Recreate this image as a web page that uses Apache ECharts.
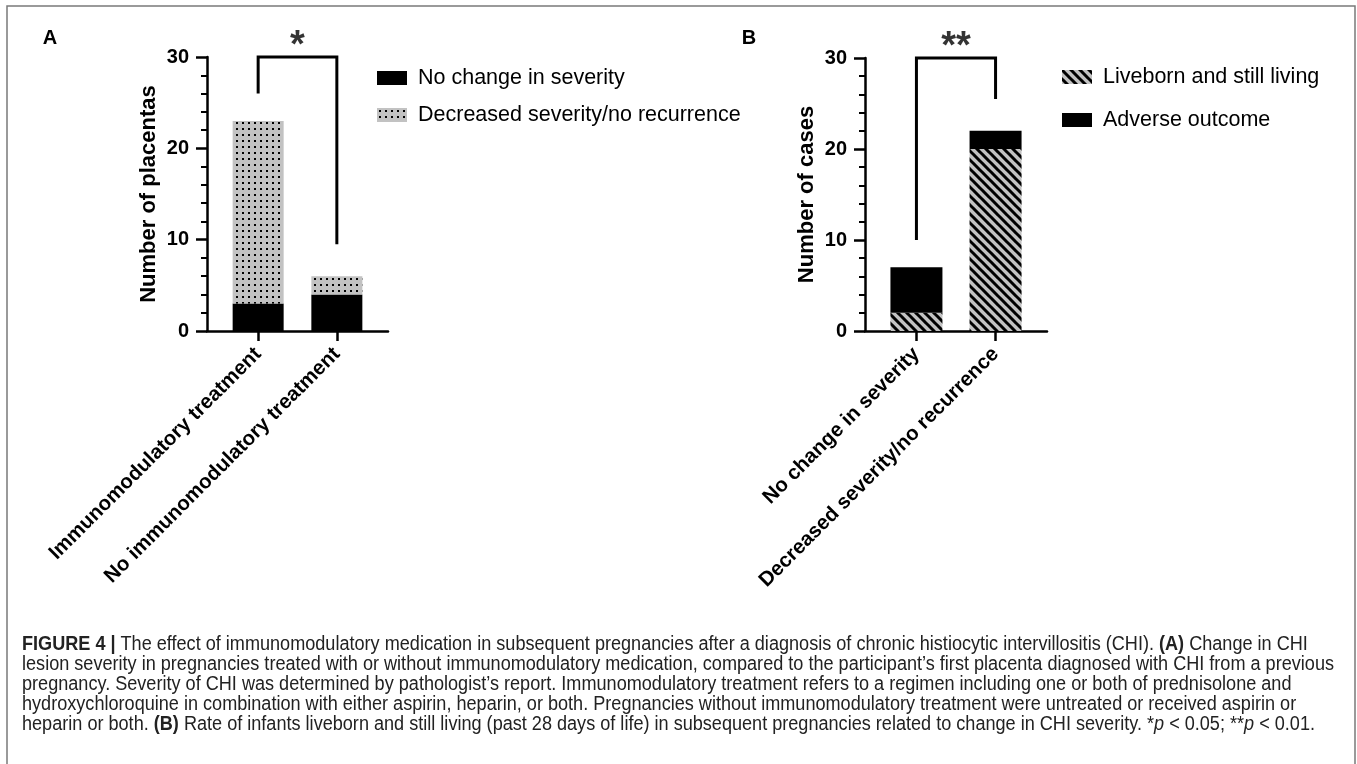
<!DOCTYPE html>
<html><head><meta charset="utf-8">
<script src="https://cdn.jsdelivr.net/npm/echarts@6/dist/echarts.min.js"></script>
<style>html,body{margin:0;padding:0;background:#fff}#c{width:1357px;height:764px}</style>
</head><body><div id="c"></div>
<script>
// ---- data ----
const categoriesA = ['Immunomodulatory treatment', 'No immunomodulatory treatment'];
const noChangeA = [3, 4];
const decreasedA = [20, 2];
const categoriesB = ['No change in severity', 'Decreased severity/no recurrence'];
const livebornB = [2, 20];
const adverseB = [5, 2];
const yMin = 0, yMax = 30, yInterval = 10;
const bracketX = [0, 0, 1, 1];
const bracketA = [26, 30, 30, 9.5];
const bracketB = [10, 30, 30, 25.5];
const sigA = '*', sigB = '**';
const yNameA = 'Number of placentas', yNameB = 'Number of cases';
const captionLines = [
  '{b|FIGURE 4 |} The effect of immunomodulatory medication in subsequent pregnancies after a diagnosis of chronic histiocytic intervillositis (CHI). {b|(A)} Change in CHI',
  'lesion severity in pregnancies treated with or without immunomodulatory medication, compared to the participant\u2019s first placenta diagnosed with CHI from a previous',
  'pregnancy. Severity of CHI was determined by pathologist\u2019s report. Immunomodulatory treatment refers to a regimen including one or both of prednisolone and',
  'hydroxychloroquine in combination with either aspirin, heparin, or both. Pregnancies without immunomodulatory treatment were untreated or received aspirin or',
  'heparin or both. {b|(B)} Rate of infants liveborn and still living (past 28 days of life) in subsequent pregnancies related to change in CHI severity. *{i|p} < 0.05; **{i|p} < 0.01.'
];
const plainLine2 = captionLines[1];

// ---- patterns ----
function dotPattern() {
  const c = document.createElement('canvas'); c.width = 6; c.height = 6;
  const g = c.getContext('2d');
  g.fillStyle = '#c2c2c2'; g.fillRect(0, 0, 6, 6);
  g.fillStyle = '#000'; g.fillRect(2, 2, 2, 2);
  return c;
}
function hatchPattern() {
  const s = 9;
  const c = document.createElement('canvas'); c.width = s; c.height = s;
  const g = c.getContext('2d');
  g.fillStyle = '#c2c2c2'; g.fillRect(0, 0, s, s);
  g.strokeStyle = '#000'; g.lineWidth = 3;
  g.beginPath();
  [-s, 0, s].forEach(k => { g.moveTo(k - 1, -1); g.lineTo(k + s + 1, s + 1); });
  g.stroke();
  return c;
}
const dots = { image: dotPattern(), repeat: 'repeat' };
const hatch = { image: hatchPattern(), repeat: 'repeat' };

const FF = '"Liberation Sans", Arial, sans-serif';
const boldTxt = { fontFamily: FF, fontWeight: 'bold', fontSize: 22, color: '#000' };
const X_MIN = -0.65, X_MAX = 1.65;

const gridsVis = [
  { left: 207, top: 57, width: 181, height: 274 },
  { left: 865, top: 58, width: 182, height: 273 }
];
// bar grids aligned with the category positions of the visible axes
const gridsBar = gridsVis.map(g => {
  const ppu = g.width / (X_MAX - X_MIN);
  return { left: g.left + (-0.5 - X_MIN) * ppu, width: 2 * ppu, top: g.top, height: g.height };
});

function xAxisCfg(grid, cats) {
  return {
    type: 'value', gridIndex: grid, min: X_MIN, max: X_MAX,
    splitLine: { show: false },
    axisLine: { show: true, onZero: false, lineStyle: { color: '#000', width: 2.5 } },
    axisTick: { show: true, customValues: [0, 1], length: 10, lineStyle: { color: '#000', width: 2.5 } },
    axisLabel: Object.assign({ customValues: [0, 1], rotate: 45, margin: 20,
      formatter: v => cats[Math.round(v)] }, boldTxt, { fontSize: 20.5 })
  };
}
function yAxisCfg(grid, name) {
  return {
    type: 'value', gridIndex: grid, min: yMin, max: yMax, interval: yInterval,
    splitLine: { show: false },
    axisLine: { show: true, onZero: false, lineStyle: { color: '#000', width: 2.5 } },
    axisTick: { show: true, length: 11, lineStyle: { color: '#000', width: 2.5 } },
    minorTick: { show: true, splitNumber: 5, length: 6, lineStyle: { color: '#000', width: 2 } },
    axisLabel: Object.assign({ margin: 18 }, boldTxt, { fontSize: 20 }),
    name: name, nameLocation: 'middle', nameGap: 47,
    nameTextStyle: Object.assign({}, boldTxt)
  };
}
function barXAxis(grid, cats) {
  return { type: 'category', gridIndex: grid, data: cats, show: false, boundaryGap: true };
}
function barYAxis(grid) {
  return { type: 'value', gridIndex: grid, min: yMin, max: yMax, interval: yInterval, show: false, splitLine: { show: false } };
}
function bracketSeries(ax, ys, sig) {
  return [{
    type: 'line', xAxisIndex: ax, yAxisIndex: ax, data: bracketX.map((x, i) => [x, ys[i]]),
    symbol: 'none', clip: false, silent: true, z: 5,
    lineStyle: { color: '#000', width: 3, cap: 'butt', join: 'miter' }
  }, {
    type: 'scatter', xAxisIndex: ax, yAxisIndex: ax, data: [[(bracketX[0] + bracketX[3]) / 2, ys[1]]],
    symbolSize: 0, clip: false, silent: true,
    label: { show: true, position: 'top', distance: -9, formatter: sig,
      fontFamily: FF, fontWeight: 'bold', fontSize: 38, color: '#000' }
  }];
}

const chart = echarts.init(document.getElementById('c'), null, { renderer: 'canvas' });

// caption scale to mimic the narrower caption face
const CAP_FS = 19.5;
const ctx = document.createElement('canvas').getContext('2d');
ctx.font = CAP_FS + 'px "Liberation Sans"';
const capScale = 1312 / ctx.measureText(plainLine2).width;

const graphics = [
  { type: 'rect', shape: { x: 7, y: 6, width: 1348, height: 900 }, silent: true,
    style: { fill: 'none', stroke: '#7a7a7a', lineWidth: 1.5 } },
  { type: 'text', x: 50, y: 38, style: { text: 'A', fontFamily: FF, fontWeight: 'bold', fontSize: 20, fill: '#000', align: 'center', verticalAlign: 'middle' } },
  { type: 'text', x: 749, y: 38, style: { text: 'B', fontFamily: FF, fontWeight: 'bold', fontSize: 20, fill: '#000', align: 'center', verticalAlign: 'middle' } }
];
captionLines.forEach((t, i) => {
  graphics.push({
    type: 'text', x: 22, y: 645 + i * 20, scaleX: capScale,
    style: { text: t, fontFamily: FF, fontSize: CAP_FS, fill: '#222', verticalAlign: 'middle',
      rich: { b: { fontFamily: FF, fontSize: CAP_FS, fontWeight: 'bold', fill: '#222' },
              i: { fontFamily: FF, fontSize: CAP_FS, fontStyle: 'italic', fill: '#222' } } }
  });
});

const legendBase = { orient: 'vertical', icon: 'rect', itemWidth: 30, itemHeight: 14, selectedMode: false,
  textStyle: { fontFamily: FF, fontSize: 21.5, color: '#000', padding: [0, 0, 0, 6] } };

chart.setOption({
  animation: false,
  backgroundColor: '#fff',
  grid: gridsVis.concat(gridsBar).map(g => Object.assign({ outerBoundsMode: 'none', containLabel: false }, g)),
  xAxis: [xAxisCfg(0, categoriesA), xAxisCfg(1, categoriesB), barXAxis(2, categoriesA), barXAxis(3, categoriesB)],
  yAxis: [yAxisCfg(0, yNameA), yAxisCfg(1, yNameB), barYAxis(2), barYAxis(3)],
  legend: [
    Object.assign({}, legendBase, { left: 372, top: 62, itemGap: 15, data: ['No change in severity', 'Decreased severity/no recurrence'] }),
    Object.assign({}, legendBase, { left: 1057, top: 61, itemGap: 21, data: ['Liveborn and still living', 'Adverse outcome'] })
  ],
  series: [
    { type: 'bar', name: 'No change in severity', xAxisIndex: 2, yAxisIndex: 2, stack: 'A', barWidth: 51,
      data: noChangeA, itemStyle: { color: '#000' } },
    { type: 'bar', name: 'Decreased severity/no recurrence', xAxisIndex: 2, yAxisIndex: 2, stack: 'A', barWidth: 51,
      data: decreasedA, itemStyle: { color: dots } },
    { type: 'bar', name: 'Liveborn and still living', xAxisIndex: 3, yAxisIndex: 3, stack: 'B', barWidth: 52,
      data: livebornB, itemStyle: { color: hatch } },
    { type: 'bar', name: 'Adverse outcome', xAxisIndex: 3, yAxisIndex: 3, stack: 'B', barWidth: 52,
      data: adverseB, itemStyle: { color: '#000' } }
  ].concat(bracketSeries(0, bracketA, sigA), bracketSeries(1, bracketB, sigB)),
  graphic: graphics
});
</script></body></html>
